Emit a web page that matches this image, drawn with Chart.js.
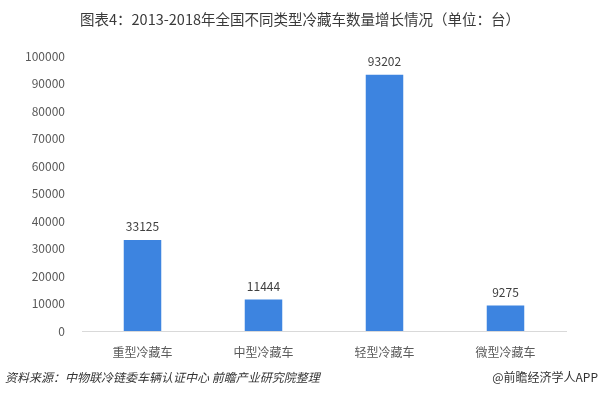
<!DOCTYPE html>
<html><head><meta charset="utf-8">
<script src="https://cdn.jsdelivr.net/npm/chart.js@4/dist/chart.umd.min.js"></script>
<style>
html,body{margin:0;padding:0;background:#fff;}
#wrap{position:relative;width:600px;height:394px;overflow:hidden;font-family:"Noto Sans CJK SC","Noto Sans",sans-serif;}
#title{position:absolute;left:0;top:8px;width:600px;text-align:center;font-size:14.5px;color:#3a3a3a;}
#src{position:absolute;left:5px;top:368px;font-size:12px;font-style:italic;color:#333;}
#app{position:absolute;right:2px;top:368px;font-size:12px;color:#333;}
canvas{position:absolute;left:0;top:0;}
</style></head>
<body><div id="wrap">
<canvas id="c" width="600" height="394"></canvas>
<div id="title">图表4：2013-2018年全国不同类型冷藏车数量增长情况（单位：台）</div>
<div id="src">资料来源：中物联冷链委车辆认证中心 前瞻产业研究院整理</div>
<div id="app">@前瞻经济学人APP</div>
</div>
<script>
const categories = ["重型冷藏车","中型冷藏车","轻型冷藏车","微型冷藏车"];
const values = [33125, 11444, 93202, 9275];
const yTicks = [0,10000,20000,30000,40000,50000,60000,70000,80000,90000,100000];

const valueLabels = {
  id:'valueLabels',
  afterDatasetsDraw(chart){
    const ctx = chart.ctx;
    const meta = chart.getDatasetMeta(0);
    ctx.save();
    ctx.font = '12px "Noto Sans CJK SC", sans-serif';
    ctx.fillStyle = '#404040';
    ctx.textAlign = 'center';
    ctx.textBaseline = 'middle';
    meta.data.forEach((bar,i)=>{
      ctx.fillText(String(values[i]), bar.x, bar.y - 13);
    });
    ctx.restore();
  }
};

new Chart(document.getElementById('c'), {
  type:'bar',
  data:{labels:categories, datasets:[{data:values, backgroundColor:'#3d84e0', categoryPercentage:1, barPercentage:0.31}]},
  options:{
    responsive:false, animation:false,
    layout:{padding:{left:0,right:34,top:56,bottom:33}},
    plugins:{legend:{display:false}, tooltip:{enabled:false}},
    scales:{
      x:{
        grid:{display:false},
        border:{display:true,color:'#d9d9d9',width:1},
        ticks:{color:'#595959',font:{size:12,family:'"Noto Sans CJK SC", sans-serif'},padding:6},
        afterFit(s){ s.height = 30; }
      },
      y:{
        min:0,max:100000,
        afterBuildTicks(s){ s.ticks = yTicks.map(v=>({value:v})); },
        grid:{display:false},
        border:{display:false},
        ticks:{color:'#595959',font:{size:12,family:'"Noto Sans CJK SC", sans-serif'},padding:9,
          callback:(v)=>String(v)},
        afterFit(s){ s.width = 82; }
      }
    }
  },
  plugins:[valueLabels]
});
</script>
</body></html>
